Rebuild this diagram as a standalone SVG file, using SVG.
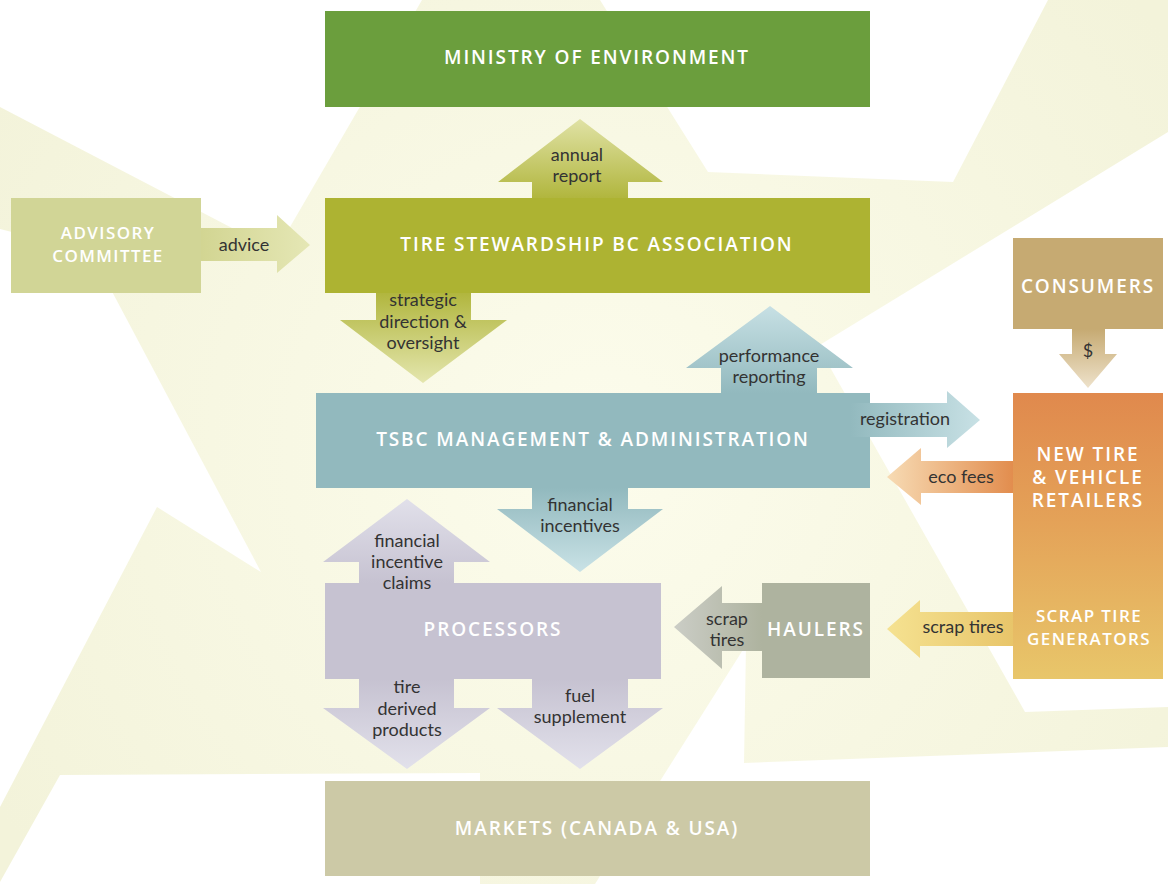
<svg xmlns="http://www.w3.org/2000/svg" width="1168" height="884" viewBox="0 0 1168 884">
<style>
.title{font-family:"Open Sans","Noto Sans","Liberation Sans",sans-serif;font-weight:600;font-size:19px;letter-spacing:1.9px;fill:#ffffff;text-anchor:middle}
.small{font-size:17px;letter-spacing:1.4px}
.lbl{font-family:Lato,"Open Sans","Liberation Sans",sans-serif;font-size:18px;fill:#333333;text-anchor:middle}
</style>
<defs>
<radialGradient id="bg" cx="600" cy="450" r="700" gradientUnits="userSpaceOnUse">
<stop offset="0" stop-color="#fcfcec"/><stop offset="1" stop-color="#f3f3da"/>
</radialGradient>
<linearGradient id="gUpOlive" x1="0" y1="0" x2="0" y2="1"><stop offset="0" stop-color="#e0e2a5"/><stop offset="1" stop-color="#b1b63e"/></linearGradient>
<linearGradient id="gDnOlive" x1="0" y1="0" x2="0" y2="1"><stop offset="0" stop-color="#b1b63e"/><stop offset="1" stop-color="#e4e6ae"/></linearGradient>
<linearGradient id="gAdvice" x1="0" y1="0" x2="1" y2="0"><stop offset="0" stop-color="#d2d592"/><stop offset="1" stop-color="#e5e7b5"/></linearGradient>
<linearGradient id="gUpTeal" x1="0" y1="0" x2="0" y2="1"><stop offset="0" stop-color="#c7e0e4"/><stop offset="1" stop-color="#92b9be"/></linearGradient>
<linearGradient id="gDnTeal" x1="0" y1="0" x2="0" y2="1"><stop offset="0" stop-color="#92b9be"/><stop offset="1" stop-color="#c9e2e6"/></linearGradient>
<linearGradient id="gRegTeal" x1="0" y1="0" x2="1" y2="0"><stop offset="0" stop-color="#92b9be"/><stop offset="1" stop-color="#c8e1e5"/></linearGradient>
<linearGradient id="gEco" x1="0" y1="0" x2="1" y2="0"><stop offset="0" stop-color="#f7dbb4"/><stop offset="1" stop-color="#e28d4e"/></linearGradient>
<linearGradient id="gDollar" x1="0" y1="0" x2="0" y2="1"><stop offset="0" stop-color="#c6aa72"/><stop offset="1" stop-color="#eee2cb"/></linearGradient>
<linearGradient id="gUpLilac" x1="0" y1="0" x2="0" y2="1"><stop offset="0" stop-color="#e1e0ea"/><stop offset="1" stop-color="#c6c2d1"/></linearGradient>
<linearGradient id="gDnLilac" x1="0" y1="0" x2="0" y2="1"><stop offset="0" stop-color="#c6c2d1"/><stop offset="1" stop-color="#e2e1eb"/></linearGradient>
<linearGradient id="gHaul" x1="0" y1="0" x2="1" y2="0"><stop offset="0" stop-color="#cbcdc6"/><stop offset="1" stop-color="#aeb39f"/></linearGradient>
<linearGradient id="gGen" x1="0" y1="0" x2="1" y2="0"><stop offset="0" stop-color="#f5e291"/><stop offset="1" stop-color="#e8c56a"/></linearGradient>
<linearGradient id="gRetail" x1="0" y1="0" x2="0" y2="1"><stop offset="0" stop-color="#e0894d"/><stop offset="0.45" stop-color="#e4a258"/><stop offset="1" stop-color="#e8c66a"/></linearGradient>
</defs>

<g id="background">
<polygon fill="url(#bg)" points="0,107 276,251 422,0 600,0 708,172 953,182 1048,0 1168,0 1168,132 818,346 1025,712 1168,707 1168,747 744,763 746,645 595,884 480,884 480,773 60,775 0,882 0,807 157,507 261,572 91,252 0,229"/>
</g>

<g id="ministry">
<rect x="325" y="11" width="545" height="96" fill="#6b9e3d"/>
<text class="title" x="597" y="64">MINISTRY OF ENVIRONMENT</text>
</g>
<g id="tsbc-association">
<rect x="325" y="198" width="545" height="95" fill="#adb332"/>
<text class="title" x="597" y="251">TIRE STEWARDSHIP BC ASSOCIATION</text>
</g>
<g id="advisory">
<rect x="11" y="198" width="190" height="95" fill="#d1d596"/>
<text class="title small" x="108" y="239">ADVISORY</text>
<text class="title small" x="108" y="262">COMMITTEE</text>
</g>
<g id="tsbc-management">
<rect x="316" y="393" width="554" height="95" fill="#92b9be"/>
<text class="title" x="593" y="446">TSBC MANAGEMENT &amp; ADMINISTRATION</text>
</g>
<g id="consumers">
<rect x="1013" y="238" width="150" height="91" fill="#c6aa72"/>
<text class="title" x="1088" y="293">CONSUMERS</text>
</g>
<g id="retailers-generators">
<rect x="1013" y="393" width="150" height="286" fill="url(#gRetail)"/>
<text class="title" x="1088" y="461">NEW TIRE</text>
<text class="title" x="1088" y="484">&amp; VEHICLE</text>
<text class="title" x="1088" y="507">RETAILERS</text>
<text class="title small" x="1089" y="622">SCRAP TIRE</text>
<text class="title small" x="1089" y="645">GENERATORS</text>
</g>
<g id="haulers">
<rect x="762" y="583" width="108" height="95" fill="#aeb39f"/>
<text class="title" x="816" y="636">HAULERS</text>
</g>
<g id="processors">
<rect x="325" y="583" width="336" height="96" fill="#c6c2d1"/>
<text class="title" x="493" y="636">PROCESSORS</text>
</g>
<g id="markets">
<rect x="325" y="781" width="545" height="95" fill="#ccc9a6"/>
<text class="title" x="597" y="835">MARKETS (CANADA &amp; USA)</text>
</g>

<g id="connectors">
<polygon fill="url(#gUpOlive)" points="532,198 532,182 498,182 580,119 663,182 628,182 628,198"/>
<text class="lbl" x="577" y="161">annual</text>
<text class="lbl" x="577" y="182">report</text>

<polygon fill="url(#gDnOlive)" points="376,293 471,293 471,320 507,320 423,383 340,320 376,320"/>
<text class="lbl" x="423" y="306">strategic</text>
<text class="lbl" x="423" y="328">direction &amp;</text>
<text class="lbl" x="423" y="349">oversight</text>

<polygon fill="url(#gAdvice)" points="201,228 277,228 277,215 310,245 277,273 277,261 201,261"/>
<text class="lbl" x="244" y="251">advice</text>

<polygon fill="url(#gUpTeal)" points="721,393 721,368 686,368 770,306 853,368 817,368 817,393"/>
<text class="lbl" x="769" y="362">performance</text>
<text class="lbl" x="769" y="383">reporting</text>

<polygon fill="url(#gRegTeal)" points="850,403 947,403 947,391 980,420 947,448 947,437 850,437"/>
<text class="lbl" x="905" y="425">registration</text>

<polygon fill="url(#gEco)" points="1013,461 921,461 921,448 887,477 921,505 921,493 1013,493"/>
<text class="lbl" x="961" y="483">eco fees</text>

<polygon fill="url(#gDollar)" points="1072,329 1105,329 1105,354 1117,354 1088,388 1059,354 1072,354"/>
<text class="lbl" x="1088" y="357">$</text>

<polygon fill="url(#gDnTeal)" points="532,488 628,488 628,509 663,509 580,572 497,509 532,509"/>
<text class="lbl" x="580" y="511">financial</text>
<text class="lbl" x="580" y="532">incentives</text>

<polygon fill="url(#gUpLilac)" points="359,583 359,562 323,562 407,499 490,562 454,562 454,583"/>
<text class="lbl" x="407" y="547">financial</text>
<text class="lbl" x="407" y="568">incentive</text>
<text class="lbl" x="407" y="589">claims</text>

<polygon fill="url(#gDnLilac)" points="359,679 454,679 454,708 490,708 407,769 323,708 359,708"/>
<text class="lbl" x="407" y="693">tire</text>
<text class="lbl" x="407" y="715">derived</text>
<text class="lbl" x="407" y="736">products</text>

<polygon fill="url(#gDnLilac)" points="532,679 628,679 628,708 663,708 580,769 497,708 532,708"/>
<text class="lbl" x="580" y="702">fuel</text>
<text class="lbl" x="580" y="723">supplement</text>

<polygon fill="url(#gHaul)" points="762,603 722,603 722,586 674,627 722,669 722,651 762,651"/>
<text class="lbl" x="727" y="625">scrap</text>
<text class="lbl" x="727" y="646">tires</text>

<polygon fill="url(#gGen)" points="1013,612 920,612 920,600 887,629 920,658 920,646 1013,646"/>
<text class="lbl" x="963" y="633">scrap tires</text>
</g>
</svg>
